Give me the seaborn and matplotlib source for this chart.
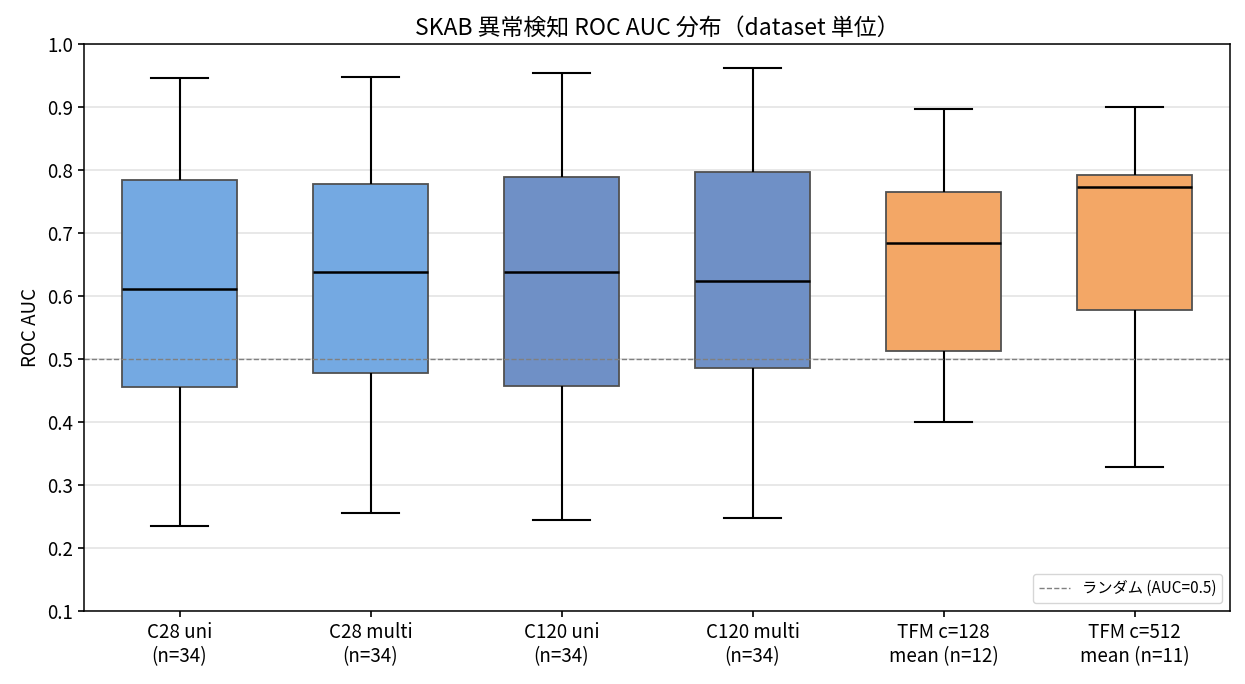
import numpy as np
import pandas as pd
import matplotlib
matplotlib.use("Agg")
import matplotlib.pyplot as plt
import seaborn as sns

# category labels and five-number summaries (min, q1, median, q3, max)
labels = ["C28 uni\n(n=34)", "C28 multi\n(n=34)", "C120 uni\n(n=34)",
          "C120 multi\n(n=34)", "TFM c=128\nmean (n=12)", "TFM c=512\nmean (n=11)"]
auc_min = [0.235, 0.256, 0.244, 0.248, 0.400, 0.329]
auc_q1 = [0.456, 0.478, 0.457, 0.486, 0.513, 0.578]
auc_med = [0.611, 0.638, 0.637, 0.624, 0.683, 0.773]
auc_q3 = [0.784, 0.778, 0.789, 0.797, 0.765, 0.792]
auc_max = [0.946, 0.948, 0.954, 0.962, 0.897, 0.900]
colors = ["#74a9e2", "#74a9e2", "#6f90c6", "#6f90c6", "#f3a766", "#f3a766"]

plt.rcParams['font.family'] = ['Noto Sans CJK JP', 'DejaVu Sans']

# five points per group give exactly these quartiles with whis=inf
rows = []
for i, lab in enumerate(labels):
    for v in (auc_min[i], auc_q1[i], auc_med[i], auc_q3[i], auc_max[i]):
        rows.append({"group": lab, "auc": v})
df = pd.DataFrame(rows)

fig, ax = plt.subplots(figsize=(12.45, 6.84), dpi=100)
sns.boxplot(data=df, x="group", y="auc", hue="group", order=labels,
            palette=dict(zip(labels, colors)), legend=False, whis=np.inf,
            saturation=1, width=0.6, linecolor="black", linewidth=1.5,
            boxprops={"edgecolor": "#505050", "linewidth": 1.3},
            medianprops={"color": "black", "linewidth": 1.8},
            whiskerprops={"color": "black", "linewidth": 1.5},
            capprops={"color": "black", "linewidth": 1.5},
            ax=ax)

ax.axhline(0.5, color="gray", linestyle="--", linewidth=1.0, label="ランダム (AUC=0.5)")
ax.set_ylim(0.1, 1.0)
ax.set_yticks(np.arange(0.1, 1.01, 0.1))
ax.yaxis.grid(True, color="#e6e6e6", linewidth=1.3)
ax.set_axisbelow(True)
ax.set_xlabel("")
ax.set_ylabel("ROC AUC", fontsize=13.5)
ax.set_title("SKAB 異常検知 ROC AUC 分布（dataset 単位）", fontsize=16.5)
ax.tick_params(labelsize=13.5, width=1.2, length=4.5)
for s in ax.spines.values():
    s.set_linewidth(1.1)
ax.legend(loc="lower right", fontsize=11)

fig.subplots_adjust(left=0.0675, right=0.988, top=0.936, bottom=0.107)
fig.savefig("out.png", dpi=100)
